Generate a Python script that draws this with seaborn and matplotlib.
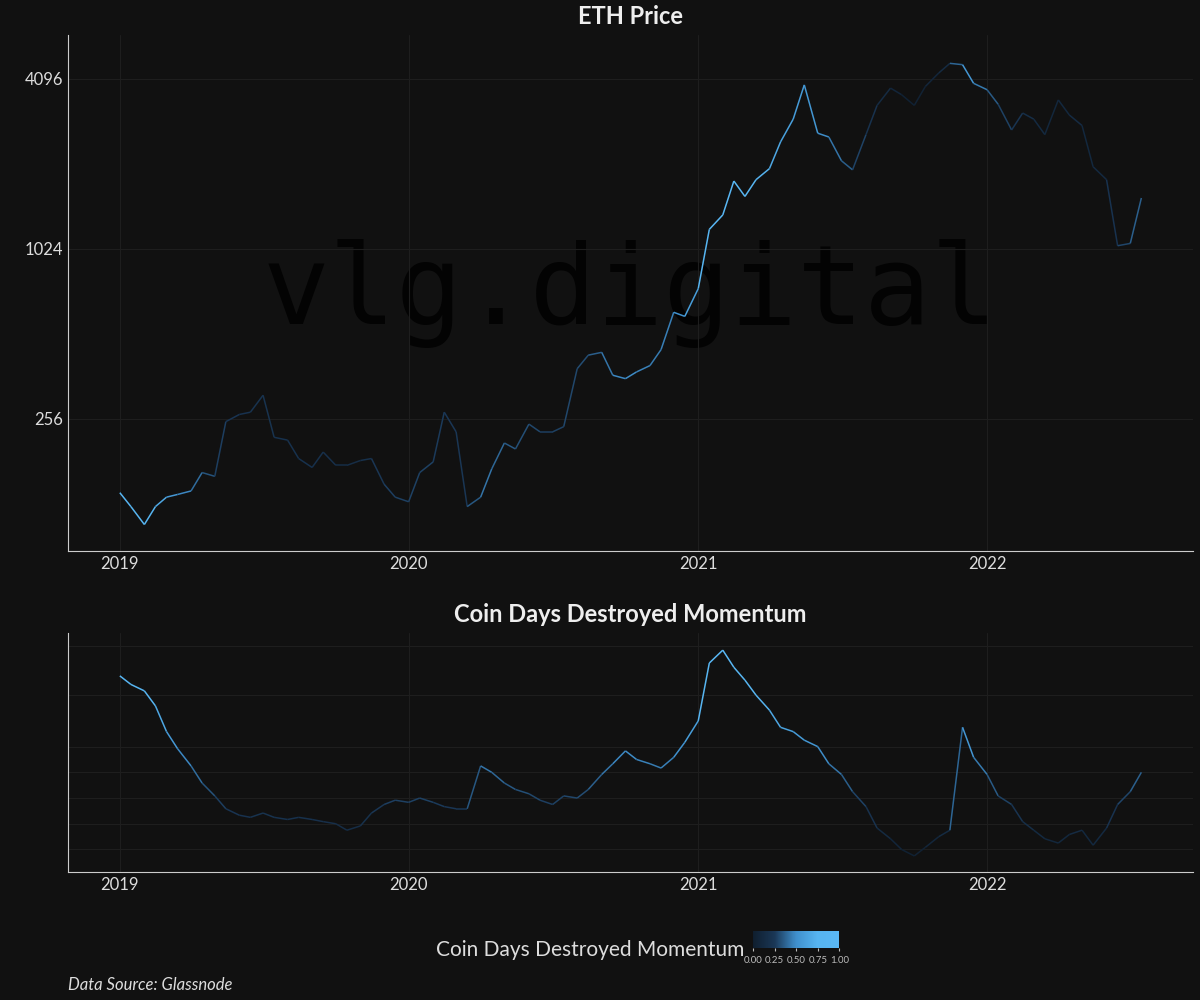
import numpy as np
import pandas as pd
import matplotlib
matplotlib.use('Agg')
import matplotlib.pyplot as plt
import matplotlib.dates as mdates
from matplotlib.collections import LineCollection
import seaborn as sns

# 半月采样
dates = pd.date_range('2019-01-01', '2022-07-15', freq='SMS')

eth_price = [
    140, 125, 108, 125, 135, 138, 142, 165, 160, 250, 265, 270,
    310, 220, 215, 185, 172, 195, 175, 175, 182, 185, 150, 135,
    130, 165, 180, 270, 230, 125, 135, 170, 210, 200, 245, 230,
    230, 240, 385, 430, 440, 365, 355, 375, 395, 450, 610, 590,
    740, 1200, 1350, 1780, 1570, 1800, 1970, 2450, 2950, 3900, 2630, 2550,
    2100, 1950, 2600, 3300, 3800, 3600, 3300, 3850, 4300, 4650, 4600, 3950,
    3750, 3330, 2700, 3100, 2950, 2600, 3450, 3050, 2800, 2000, 1800, 1050,
    1070, 1550,
]

cdd_momentum = [
    .86, .82, .79, .72, .60, .52, .44, .36, .30, .24, .21, .20,
    .22, .20, .19, .20, .19, .18, .17, .14, .16, .22, .26, .28,
    .27, .29, .27, .25, .24, .24, .44, .41, .36, .33, .31, .28,
    .26, .30, .29, .33, .40, .45, .51, .47, .45, .43, .48, .55,
    .65, .92, .98, .90, .84, .77, .70, .62, .60, .56, .53, .45,
    .40, .32, .25, .15, .10, .05, .02, .06, .11, .14, .62, .48,
    .40, .30, .26, .18, .14, .10, .08, .12, .14, .07, .15, .26,
    .32, .41,
]

bg = '#111111'
sns.set_style('dark', {'axes.facecolor': bg, 'figure.facecolor': bg})
plt.rcParams['font.family'] = ['Lato', 'DejaVu Sans']

cmap = sns.blend_palette(['#0f1e2e', '#1a3756', '#3f8fcc', '#56b4f0', '#5ab8f5'], as_cmap=True)

fig = plt.figure(figsize=(12, 10), dpi=100)
ax1 = fig.add_axes([0.057, 0.449, 0.937, 0.516])
ax2 = fig.add_axes([0.057, 0.128, 0.937, 0.239])

x = mdates.date2num(dates)
m = np.array(cdd_momentum)


def colored_line(ax, y):
    pts = np.column_stack([x, y]).reshape(-1, 1, 2)
    segs = np.concatenate([pts[:-1], pts[1:]], axis=1)
    lc = LineCollection(segs, cmap=cmap, norm=plt.Normalize(0, 1), linewidth=1.1)
    lc.set_array((m[:-1] + m[1:]) / 2)
    ax.add_collection(lc)
    return lc


xlim = (mdates.date2num(pd.Timestamp('2018-10-28')), mdates.date2num(pd.Timestamp('2022-09-18')))

# 上图：ETH价格
colored_line(ax1, np.array(eth_price, dtype=float))
ax1.set_yscale('log', base=2)
ax1.set_ylim(87, 5860)
ax1.set_yticks([256, 1024, 4096])
ax1.set_yticklabels(['256', '1024', '4096'])
ax1.minorticks_off()
ax1.set_title('ETH Price', color='#eeeeee', fontsize=17, fontweight='bold', pad=8)
ax1.text(0.5, 0.5, 'vlg.digital', transform=ax1.transAxes, ha='center', va='center',
         fontsize=80, color='#030303', family='DejaVu Sans Mono', zorder=0)

# 下图：动量
colored_line(ax2, m)
ax2.set_ylim(-0.055, 1.06)
ax2.set_yticks([0.05, 0.17, 0.29, 0.41, 0.53, 0.77, 1.0])
ax2.set_yticklabels([])
ax2.set_title('Coin Days Destroyed Momentum', color='#eeeeee', fontsize=17, fontweight='bold', pad=8)

for ax in (ax1, ax2):
    ax.set_xlim(*xlim)
    ax.xaxis.set_major_locator(mdates.YearLocator())
    ax.xaxis.set_major_formatter(mdates.DateFormatter('%Y'))
    ax.grid(True, color='#1e1e1e', linewidth=0.8)
    ax.tick_params(colors='#dddddd', labelsize=12, length=0)
    for s in ('top', 'right'):
        ax.spines[s].set_visible(False)
    for s in ('left', 'bottom'):
        ax.spines[s].set_visible(True)
        ax.spines[s].set_color('#cccccc')

# 颜色条图例
cax = fig.add_axes([0.6275, 0.052, 0.072, 0.017])
sm = plt.cm.ScalarMappable(cmap=cmap, norm=plt.Normalize(0, 1))
cb = fig.colorbar(sm, cax=cax, orientation='horizontal', ticks=[0, .25, .5, .75, 1])
cb.ax.set_xticklabels(['0.00', '0.25', '0.50', '0.75', '1.00'])
cb.ax.tick_params(colors='#bbbbbb', labelsize=7, length=2)
cb.outline.set_visible(False)
fig.text(0.62, 0.05, 'Coin Days Destroyed Momentum', ha='right', va='center',
         color='#dddddd', fontsize=15)
fig.text(0.057, 0.015, 'Data Source: Glassnode', ha='left', va='center',
         color='#dddddd', fontsize=12, style='italic')

fig.savefig('out.png', dpi=100, facecolor=bg)
